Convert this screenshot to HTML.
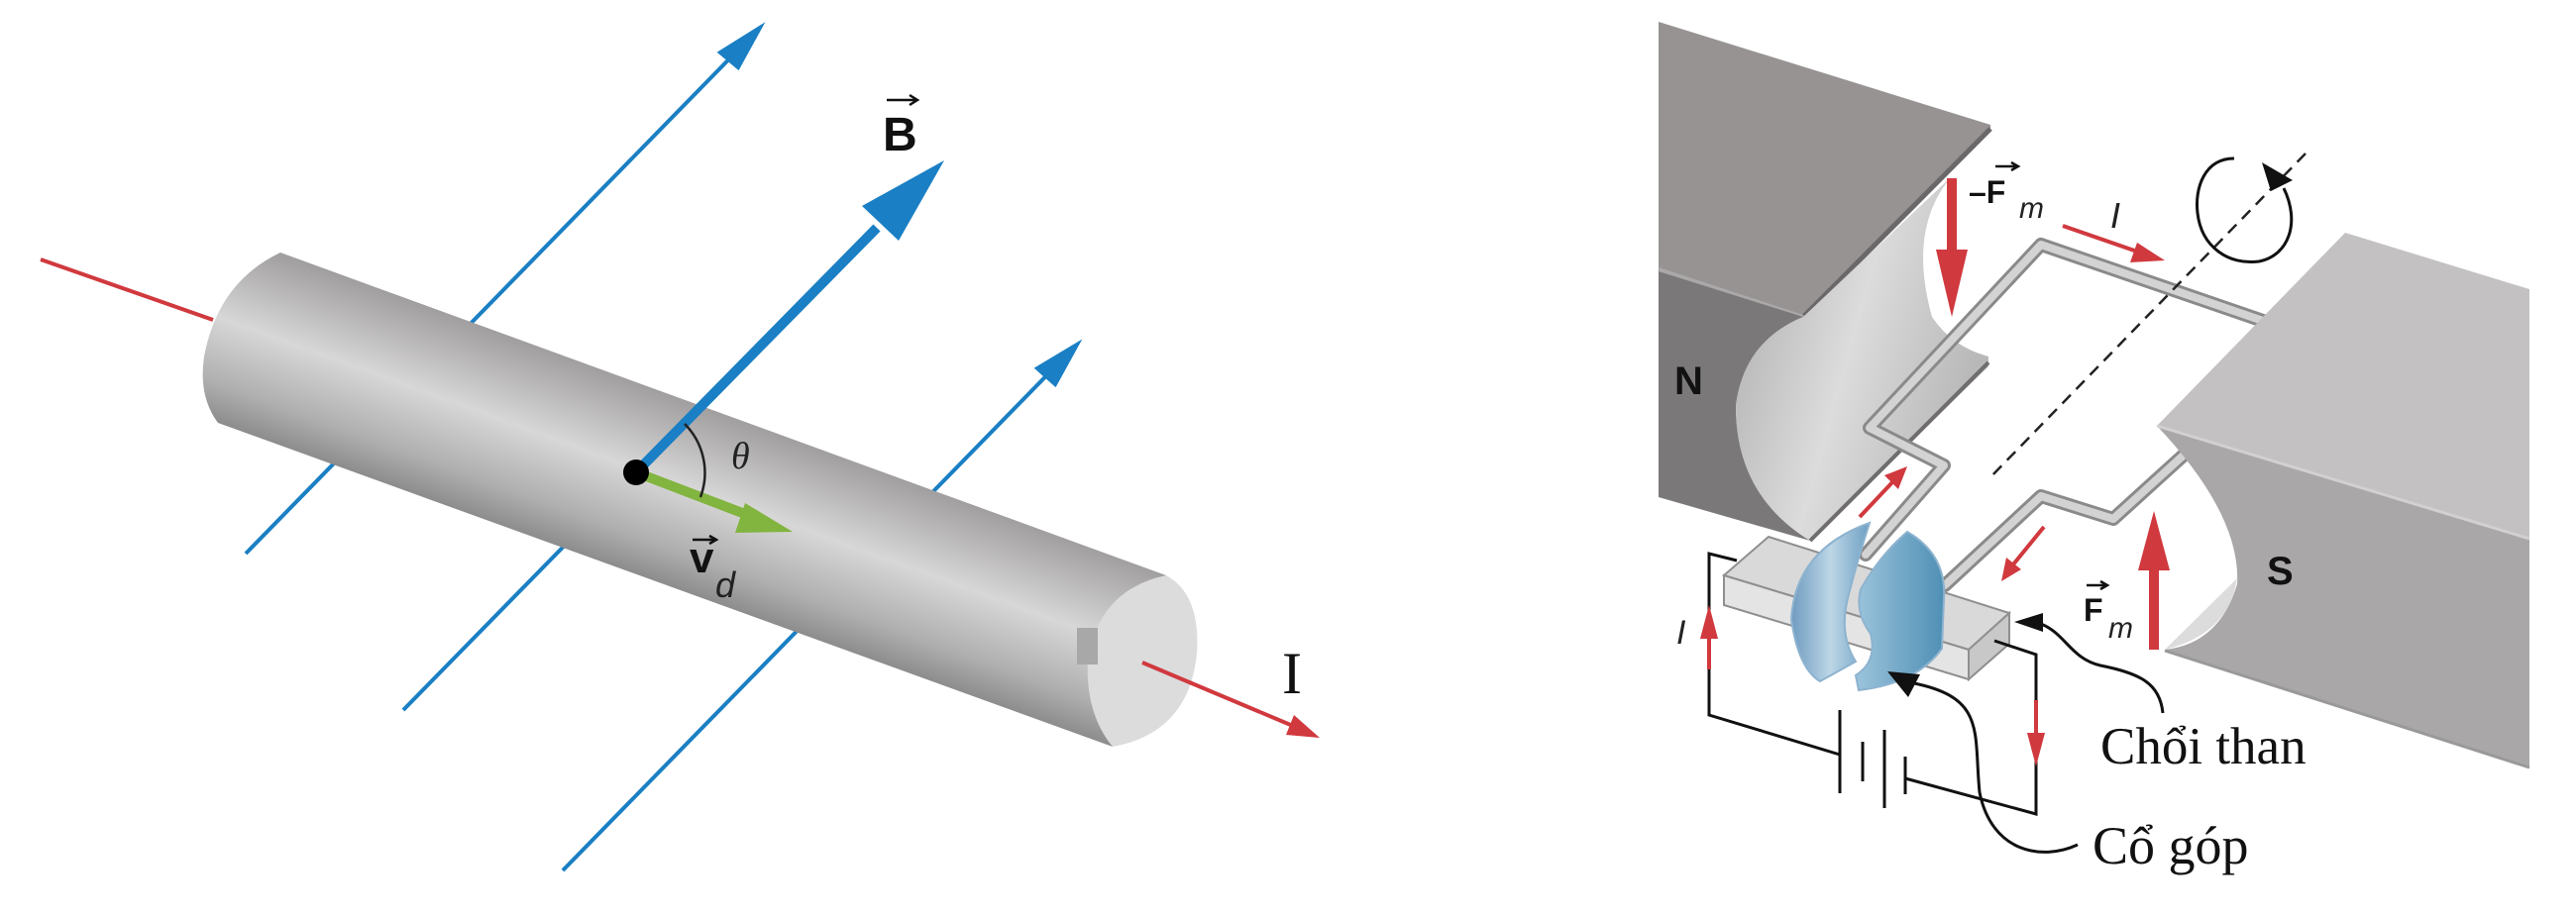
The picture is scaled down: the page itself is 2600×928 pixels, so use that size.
<!DOCTYPE html>
<html><head><meta charset="utf-8"><style>html,body{margin:0;padding:0;background:#fff}svg{display:block}</style></head><body>
<svg width="2600" height="928" viewBox="0 0 2600 928" xmlns="http://www.w3.org/2000/svg">
<defs>
<linearGradient id="cyl" gradientUnits="userSpaceOnUse" x1="700" y1="407" x2="638" y2="578">
<stop offset="0" stop-color="#a09e9e"/><stop offset="0.45" stop-color="#d8d7d7"/><stop offset="0.8" stop-color="#b0afaf"/><stop offset="1" stop-color="#8e8d8d"/></linearGradient>
<linearGradient id="conc" x1="0" y1="0" x2="1" y2="0.4">
<stop offset="0" stop-color="#a9a9a9"/><stop offset="0.55" stop-color="#dcdcdc"/><stop offset="1" stop-color="#b8b8b8"/></linearGradient>
<linearGradient id="blu1" x1="0" y1="0" x2="1" y2="0">
<stop offset="0" stop-color="#6f9bc0"/><stop offset="0.5" stop-color="#bcd6e6"/><stop offset="1" stop-color="#6e9fc3"/></linearGradient>
<linearGradient id="blu2" x1="0" y1="0" x2="1" y2="0">
<stop offset="0" stop-color="#9cc4dc"/><stop offset="1" stop-color="#4f8fb5"/></linearGradient>
</defs>

<!-- LEFT PANEL -->
<line x1="41" y1="262" x2="215" y2="323" stroke="#d0393e" stroke-width="4"/>
<g stroke="#1a7fc4" stroke-width="4" fill="#1a7fc4">
<line x1="248" y1="559" x2="760" y2="35"/>
<polygon points="767,28 727,53 745,68"/>
<line x1="407" y1="717" x2="600" y2="520"/>
<line x1="568" y1="879" x2="1080" y2="355"/>
<polygon points="1087,348 1047,372 1065,388"/>
</g>
<path d="M283,255 L1177,581 L1123,754 L220,427 Q200,400 206,360 Q220,285 283,255 Z" fill="url(#cyl)"/>
<path d="M1177,581 Q1212,600 1208,660 Q1200,740 1123,754 Q1095,720 1098,665 Q1110,595 1177,581 Z" fill="#dcdcdc"/>
<rect x="1087" y="634" width="21" height="37" fill="#a9a8a8"/>
<line x1="1153" y1="669" x2="1305" y2="733" stroke="#d0393e" stroke-width="4"/>
<polygon points="1332,745 1298,742 1306,722" fill="#d0393e"/>
<text x="1294" y="700" font-family="Liberation Serif, serif" font-size="60" fill="#111">I</text>
<line x1="642" y1="477" x2="885" y2="230" stroke="#1a7fc4" stroke-width="10"/>
<polygon points="953,162 870,208 907,243" fill="#1a7fc4"/>
<text x="891" y="152" font-family="Liberation Sans, sans-serif" font-weight="bold" font-size="48" fill="#111">B</text>
<path d="M895,101 H925 M918,96 L926,101 L918,106" stroke="#111" stroke-width="2.5" fill="none"/>
<line x1="642" y1="477" x2="765" y2="524" stroke="#82b440" stroke-width="10"/>
<polygon points="800,537 752,508 742,538" fill="#82b440"/>
<circle cx="642" cy="477" r="13" fill="#000"/>
<path d="M691,428 A70,70 0 0 1 707,502" stroke="#222" stroke-width="2.5" fill="none"/>
<text x="738" y="473" font-family="Liberation Serif, serif" font-style="italic" font-size="38" fill="#222">θ</text>
<text x="696" y="578" font-family="Liberation Sans, sans-serif" font-weight="bold" font-size="44" fill="#111">v</text>
<path d="M699,545 H722 M716,541 L723,545 L716,549" stroke="#111" stroke-width="2.5" fill="none"/>
<text x="722" y="603" font-family="Liberation Sans, sans-serif" font-style="italic" font-size="36" fill="#222">d</text>

<!-- RIGHT PANEL: N magnet -->
<polygon points="1674,22 2009,126 2009,133 1820,320 1674,272" fill="#979393"/>
<line x1="2009" y1="130" x2="1820" y2="320" stroke="#6a6868" stroke-width="5"/>
<line x1="1674" y1="272" x2="1820" y2="320" stroke="#aaa8a8" stroke-width="4"/>
<path d="M1674,274 L1820,320 Q1760,345 1752,410 Q1752,500 1827,546 L1674,502 Z" fill="#7b7879"/>
<path d="M1820,320 L1970,178 Q1925,230 1950,320 Q1970,350 2007,360 L2007,370 L1827,546 Q1752,500 1752,410 Q1760,345 1820,320 Z" fill="url(#conc)"/>
<line x1="1827" y1="546" x2="2007" y2="366" stroke="#6f6d6d" stroke-width="4"/>
<text x="1690" y="398" font-family="Liberation Sans, sans-serif" font-weight="bold" font-size="40" fill="#111">N</text>

<!-- wire -->
<g fill="none" stroke-linejoin="round" stroke-linecap="round">
<path d="M1883,560 L1962,470 L1887,432 L2060,247 L2290,326" stroke="#8a8a8a" stroke-width="14"/>
<path d="M1883,560 L1962,470 L1887,432 L2060,247 L2290,326" stroke="#d3d3d3" stroke-width="8"/>
<path d="M1963,591 L2060,501 L2133,524 L2220,445" stroke="#8a8a8a" stroke-width="14"/>
<path d="M1963,591 L2060,501 L2133,524 L2220,445" stroke="#d3d3d3" stroke-width="8"/>
</g>

<!-- S magnet -->
<polygon points="2367,235 2553,292 2553,544 2177,430" fill="#c3c1c2"/>
<path d="M2177,430 L2553,544 L2553,774 L2185,656 Q2240,650 2258,590 Q2262,520 2177,430 Z" fill="#aaa7a8"/>
<line x1="2177" y1="430" x2="2553" y2="544" stroke="#d2d0d0" stroke-width="3"/>
<path d="M2185,656 L2258,584 Q2250,640 2185,656 Z" fill="#dcdcdc"/>
<line x1="2185" y1="657" x2="2553" y2="775" stroke="#999" stroke-width="3"/>
<text x="2288" y="590" font-family="Liberation Sans, sans-serif" font-weight="bold" font-size="40" fill="#111">S</text>

<!-- axis and rotation -->
<line x1="2327" y1="155" x2="2007" y2="484" stroke="#222" stroke-width="2.5" stroke-dasharray="12,8"/>
<path d="M2255,160 C2225,160 2215,190 2218,215 C2222,250 2250,268 2280,264 C2310,258 2322,225 2305,190" fill="none" stroke="#111" stroke-width="3"/>
<polygon points="2283,164 2292,193 2314,182" fill="#111"/>

<!-- red arrows -->
<g fill="#d0393e" stroke="#d0393e">
<line x1="1970" y1="180" x2="1970" y2="260" stroke-width="10"/>
<polygon points="1954,252 1986,252 1970,320" stroke="none"/>
<line x1="2082" y1="228" x2="2160" y2="255" stroke-width="4"/>
<polygon points="2185,263 2150,265 2157,245" stroke="none"/>
<line x1="2174" y1="656" x2="2174" y2="570" stroke-width="10"/>
<polygon points="2158,576 2190,576 2174,516" stroke="none"/>
<line x1="1877" y1="522" x2="1910" y2="487" stroke-width="4"/>
<polygon points="1925,471 1902,480 1916,494" stroke="none"/>
<line x1="2063" y1="532" x2="2032" y2="570" stroke-width="4"/>
<polygon points="2020,587 2025,563 2040,575" stroke="none"/>
</g>
<text x="1987" y="205" font-family="Liberation Sans, sans-serif" font-weight="bold" font-size="32" fill="#111">–F</text>
<path d="M2014,168 H2036 M2030,164 L2037,168 L2030,172" stroke="#111" stroke-width="2.5" fill="none"/>
<text x="2038" y="220" font-family="Liberation Sans, sans-serif" font-style="italic" font-size="30" fill="#222">m</text>
<text x="2130" y="230" font-family="Liberation Sans, sans-serif" font-style="italic" font-size="36" fill="#222">I</text>
<text x="2103" y="627" font-family="Liberation Sans, sans-serif" font-weight="bold" font-size="32" fill="#111">F</text>
<path d="M2106,591 H2126 M2120,587 L2127,591 L2120,595" stroke="#111" stroke-width="2.5" fill="none"/>
<text x="2128" y="644" font-family="Liberation Sans, sans-serif" font-style="italic" font-size="30" fill="#222">m</text>

<!-- brush bar -->
<polygon points="1740,581 1785,542 2028,619 1987,656" fill="#d9d9d9" stroke="#8f8f8f" stroke-width="2"/>
<polygon points="1740,581 1987,656 1987,686 1740,611" fill="#e4e4e4" stroke="#8f8f8f" stroke-width="2"/>
<polygon points="1987,656 2028,619 2028,650 1987,686" fill="#c8c8c8" stroke="#8f8f8f" stroke-width="2"/>

<!-- commutator -->
<path d="M1887,528 Q1812,555 1808,625 Q1815,675 1837,688 L1873,668 Q1855,640 1866,600 Q1875,565 1887,528 Z" fill="url(#blu1)" stroke="#8db3cf" stroke-width="2"/>
<path d="M1925,537 Q1965,560 1962,605 L1960,655 Q1935,690 1876,697 L1873,682 Q1895,668 1888,640 Q1872,618 1878,595 Q1898,560 1925,537 Z" fill="url(#blu2)" stroke="#8db3cf" stroke-width="2"/>

<!-- circuit -->
<g stroke="#111" stroke-width="3" fill="none">
<polyline points="1753,566 1725,559 1725,722 1857,762"/>
<line x1="1857" y1="717" x2="1857" y2="801"/>
<line x1="1880" y1="749" x2="1880" y2="789"/>
<line x1="1902" y1="737" x2="1902" y2="816"/>
<line x1="1923" y1="764" x2="1923" y2="802"/>
<polyline points="1923,786 2055,822 2055,661 2013,647"/>
<path d="M2183,720 C2180,690 2160,680 2120,672 C2090,665 2085,640 2060,630"/>
<path d="M2097,853 C2060,870 2010,860 1998,800 C1992,740 2005,705 1932,690"/>
</g>
<polygon points="2033,628 2062,619 2062,638" fill="#111"/>
<polygon points="1905,678 1926,704 1938,681" fill="#111"/>
<g fill="#d0393e" stroke="#d0393e">
<line x1="1725" y1="676" x2="1725" y2="640" stroke-width="4"/>
<polygon points="1716,645 1734,645 1725,611" stroke="none"/>
<line x1="2055" y1="707" x2="2055" y2="745" stroke-width="4"/>
<polygon points="2046,740 2064,740 2055,774" stroke="none"/>
</g>
<text x="1692" y="650" font-family="Liberation Sans, sans-serif" font-style="italic" font-size="34" fill="#222">I</text>

<text x="2120" y="771" font-family="Liberation Serif, serif" font-size="53" fill="#111">Chổi than</text>
<text x="2112" y="872" font-family="Liberation Serif, serif" font-size="54" fill="#111">Cổ góp</text>
</svg>
</body></html>
